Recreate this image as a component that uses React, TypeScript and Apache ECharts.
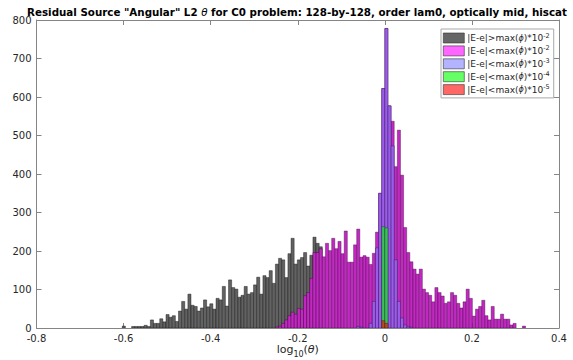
import React, { useEffect, useRef } from "react";
import * as echarts from "echarts";

// Histogram bin width (in log10(theta) units); bin j spans [j*BIN_WIDTH, (j+1)*BIN_WIDTH]
const BIN_WIDTH = 0.00718;

// |E-e| > max(phi)*1e-2  (gray)
const GRAY_START_BIN = -84;
const GRAY_COUNTS = [
  5, 0, 0, 4, 4, 4, 4, 7, 4, 21, 12, 12, 24, 16, 35, 28, 32, 17, 44, 69,
  49, 88, 59, 56, 44, 52, 73, 55, 63, 49, 77, 73, 108, 57, 125, 105, 101, 80, 85, 108,
  88, 92, 112, 132, 88, 136, 131, 149, 116, 166, 181, 177, 131, 193, 233, 166, 177, 183, 196, 161,
  189, 236, 220, 211,
];

// |E-e| < max(phi)*1e-2  (magenta)
const MAGENTA_START_BIN = -35;
const MAGENTA_COUNTS = [
  3, 5, 12, 21, 32, 41, 36, 51, 49, 84, 92, 129, 196, 196, 206, 185, 220, 201, 233, 206,
  225, 193, 252, 171, 171, 216, 257, 184, 188, 184, 165, 194, 249, 350, 622, 778, 577, 537, 419, 514,
  397, 261, 196, 172, 153, 140, 153, 101, 92, 85, 68, 105, 92, 83, 64, 68, 92, 85, 64, 52,
  68, 101, 77, 31, 49, 56, 72, 32, 21, 56, 23, 23, 36, 23, 23, 8, 12, 0, 0, 5,
];

// |E-e| < max(phi)*1e-3  (lavender)
const LAVENDER_START_BIN = -9;
const LAVENDER_COUNTS = [4, 2, 0, 0, 12, 69, 208, 350, 622, 778, 577, 473, 177, 69, 26, 8, 3, 2];

// |E-e| < max(phi)*1e-4  (green)
const GREEN_START_BIN = -1;
const GREEN_COUNTS = [263, 260];

// |E-e| < max(phi)*1e-5  (red)
const RED_START_BIN = -1;
const RED_COUNTS = [19, 12];

const SERIES_NAMES = [
  "|E-e|>max(ϕ)*10^-2",
  "|E-e|<max(ϕ)*10^-2",
  "|E-e|<max(ϕ)*10^-3",
  "|E-e|<max(ϕ)*10^-4",
  "|E-e|<max(ϕ)*10^-5",
];
const LEGEND_PREFIX = ["|E-e|>max(", "|E-e|<max(", "|E-e|<max(", "|E-e|<max(", "|E-e|<max("];
const LEGEND_EXP = ["-2", "-2", "-3", "-4", "-5"];

const X_MIN = -0.8;
const X_MAX = 0.4;
const X_STEP = 0.2;
const Y_MIN = 0;
const Y_MAX = 800;
const Y_STEP = 100;

const FONT = "DejaVu Sans";

// plotted (composited) colours and legend swatch colours
const PLOT_FILL = ["#626262", "#c229c2", "#9a5de7", "#3ebe5c", "#b24c25"];
const PLOT_STROKE = [
  "rgba(0,0,0,0.75)",
  "rgba(50,0,50,0.75)",
  "rgba(40,10,80,0.75)",
  "rgba(0,50,20,0.75)",
  "rgba(60,10,0,0.75)",
];
const LEGEND_FILL = ["#666666", "#ff66ff", "#b3b3ff", "#66ff66", "#ff6666"];

function toBins(start: number, counts: number[]) {
  return counts
    .map((c, i) => [(start + i) * BIN_WIDTH, (start + i + 1) * BIN_WIDTH, c])
    .filter((d) => d[2] > 0);
}

export default function App() {
  const ref = useRef<HTMLDivElement>(null);

  useEffect(() => {
    document.body.style.margin = "0";
    if (!ref.current) return;
    const chart = echarts.init(ref.current, undefined, { renderer: "svg" });

    const datasets = [
      toBins(GRAY_START_BIN, GRAY_COUNTS),
      toBins(MAGENTA_START_BIN, MAGENTA_COUNTS),
      toBins(LAVENDER_START_BIN, LAVENDER_COUNTS),
      toBins(GREEN_START_BIN, GREEN_COUNTS),
      toBins(RED_START_BIN, RED_COUNTS),
    ];

    const series = datasets.map((data, si) => ({
      type: "custom",
      name: SERIES_NAMES[si],
      xAxisIndex: 0,
      yAxisIndex: 0,
      clip: true,
      encode: { x: [0, 1], y: 2 },
      data,
      itemStyle: { color: LEGEND_FILL[si] },
      renderItem: (params: any, api: any) => {
        const p0 = api.coord([api.value(0), api.value(2)]);
        const p1 = api.coord([api.value(1), 0]);
        return {
          type: "rect",
          shape: { x: p0[0], y: p0[1], width: p1[0] - p0[0], height: p1[1] - p0[1] },
          style: { fill: PLOT_FILL[si], stroke: PLOT_STROKE[si], lineWidth: 0.5 },
        };
      },
    }));

    const axisLineColor = "#858585";
    const labelColor = "#262626";

    const option: any = {
      animation: false,
      textStyle: { fontFamily: FONT },
      grid: {
        left: 36.5,
        right: 14,
        top: 20,
        bottom: 32,
        containLabel: false,
        outerBoundsMode: "none",
      },
      graphic: [
        {
          type: "text",
          x: 297,
          y: 12,
          style: {
            text:
              '{b|Residual Source "Angular" L2 }{t|θ}{b| for C0 problem: 128-by-128, order lam0, optically mid, hiscat}',
            align: "center",
            verticalAlign: "middle",
            rich: {
              b: { fontFamily: FONT, fontWeight: "bold", fontSize: 10.3, fill: "#000" },
              t: { fontFamily: FONT, fontStyle: "italic", fontSize: 10.3, fill: "#000" },
            },
          },
        },
      ],
      legend: {
        orient: "vertical",
        left: 441,
        top: 29,
        padding: [3, 4, 3, 2],
        itemWidth: 21,
        itemHeight: 10,
        itemGap: 1.6,
        selectedMode: false,
        backgroundColor: "#ffffff",
        borderColor: "#a8a8a8",
        borderWidth: 1,
        borderRadius: 0,
        data: SERIES_NAMES.map((n, i) => ({
          name: n,
          icon: "rect",
          itemStyle: { color: LEGEND_FILL[i], borderColor: "#333", borderWidth: 0.6 },
        })),
        formatter: (name: string) => {
          const i = SERIES_NAMES.indexOf(name);
          return `{a|${LEGEND_PREFIX[i]}}{p|ϕ}{a|)*10}{s|${LEGEND_EXP[i]}}`;
        },
        textStyle: {
          fontFamily: FONT,
          fontSize: 9,
          color: labelColor,
          padding: [0, 0, 0, -2],
          rich: {
            a: { fontFamily: FONT, fontSize: 9, color: labelColor, lineHeight: 12 },
            p: { fontFamily: FONT, fontSize: 8, fontStyle: "italic", color: labelColor, lineHeight: 12 },
            s: { fontFamily: FONT, fontSize: 6.5, color: labelColor, lineHeight: 12, verticalAlign: "top" },
          },
        },
      },
      xAxis: [
        {
          type: "value",
          position: "bottom",
          min: X_MIN,
          max: X_MAX,
          interval: X_STEP,
          axisLine: { show: true, onZero: false, lineStyle: { color: axisLineColor, width: 1 } },
          axisTick: { show: true, inside: true, length: 5, lineStyle: { color: axisLineColor } },
          axisLabel: { color: labelColor, fontSize: 10, fontFamily: FONT, margin: 5 },
          splitLine: { show: false },
          name: "{a|log}{b|10}{a|(}{c|θ}{a|)}",
          nameLocation: "middle",
          nameGap: 12,
          nameMoveOverlap: false,
          nameTextStyle: {
            verticalAlign: "top",
            rich: {
              a: { fontFamily: FONT, fontSize: 11, color: labelColor, lineHeight: 18 },
              b: { fontFamily: FONT, fontSize: 8, color: labelColor, lineHeight: 18, verticalAlign: "bottom" },
              c: { fontFamily: FONT, fontSize: 11, fontStyle: "italic", color: labelColor, lineHeight: 18 },
            },
          },
        },
        {
          type: "value",
          position: "top",
          min: X_MIN,
          max: X_MAX,
          interval: X_STEP,
          axisLine: { show: true, onZero: false, lineStyle: { color: axisLineColor, width: 1 } },
          axisTick: { show: true, inside: true, length: 5, lineStyle: { color: axisLineColor } },
          axisLabel: { show: false },
          splitLine: { show: false },
        },
      ],
      yAxis: [
        {
          type: "value",
          position: "left",
          min: Y_MIN,
          max: Y_MAX,
          interval: Y_STEP,
          axisLine: { show: true, onZero: false, lineStyle: { color: axisLineColor, width: 1 } },
          axisTick: { show: true, inside: true, length: 5, lineStyle: { color: axisLineColor } },
          axisLabel: { color: labelColor, fontSize: 10, fontFamily: FONT, margin: 5 },
          splitLine: { show: false },
        },
        {
          type: "value",
          position: "right",
          min: Y_MIN,
          max: Y_MAX,
          interval: Y_STEP,
          axisLine: { show: true, onZero: false, lineStyle: { color: axisLineColor, width: 1 } },
          axisTick: { show: true, inside: true, length: 5, lineStyle: { color: axisLineColor } },
          axisLabel: { show: false },
          splitLine: { show: false },
        },
      ],
      series,
    };

    chart.setOption(option);
    return () => chart.dispose();
  }, []);

  return <div ref={ref} style={{ width: 573, height: 360 }} />;
}
